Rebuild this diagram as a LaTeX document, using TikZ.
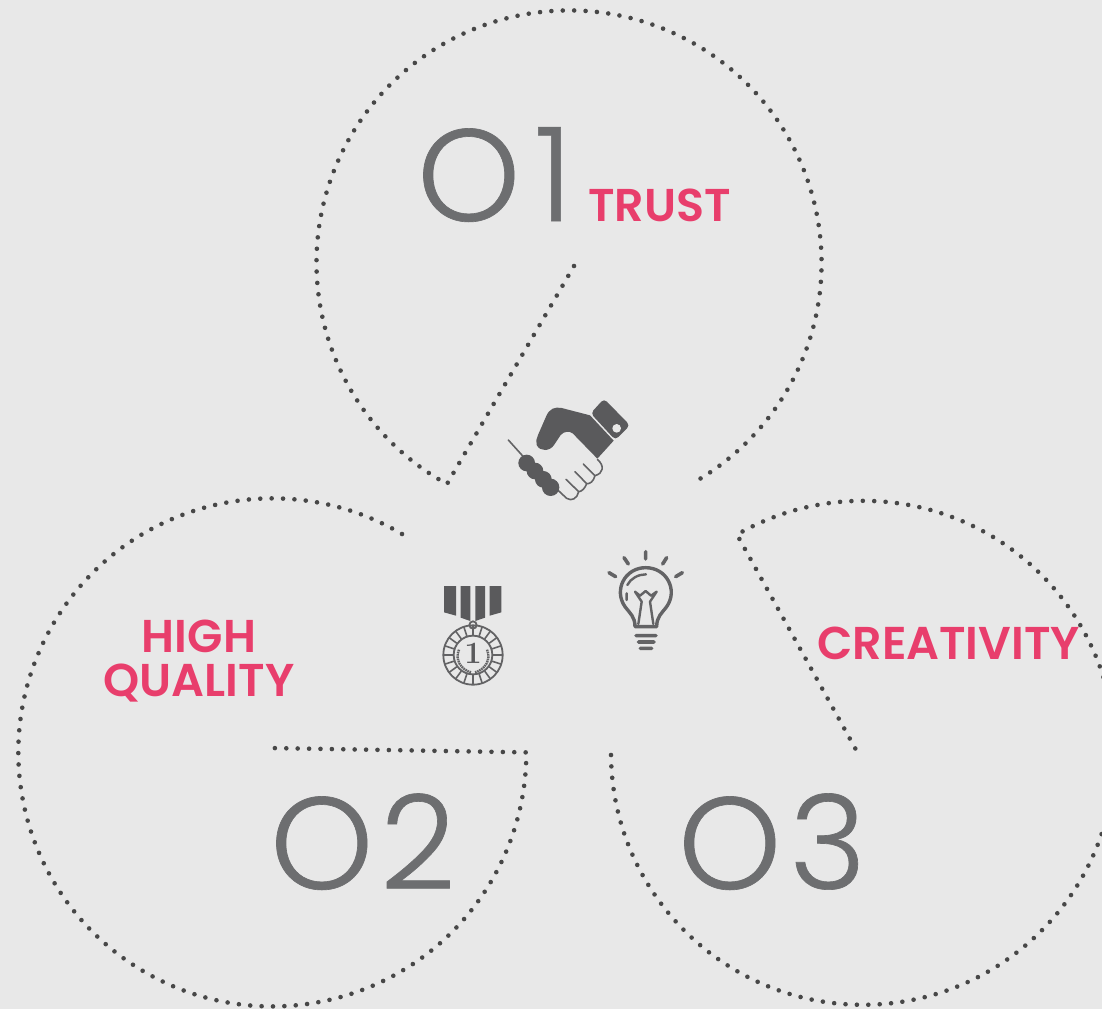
\documentclass[tikz,border=0pt]{standalone}
\usepackage{fontspec}
\newfontfamily\numfont[UprightFont=* Light,FakeBold=0.5]{Poppins}
\newfontfamily\labfont[UprightFont=* SemiBold]{Poppins}
\definecolor{bgc}{HTML}{E8E8E8}
\definecolor{pinkc}{HTML}{E83E6C}
\definecolor{numc}{HTML}{6D6E70}
\definecolor{dotc}{HTML}{474747}
\definecolor{icond}{HTML}{5A5A5C}
\definecolor{iconl}{HTML}{636365}
\tikzset{
  dotline/.style={draw=dotc,line width=4.6pt,line cap=round,dash pattern=on 0pt off 11.4pt},
  numtext/.style={inner sep=0pt,anchor=base west,text=numc,font=\fontsize{131}{131}\selectfont\numfont},
  labtext/.style={inner sep=0pt,text=pinkc,font=\fontsize{46}{46}\selectfont\labfont},
  thinicon/.style={draw=iconl,line width=3.6pt,line cap=round,line join=round},
  zoomscale/.style={scale=1/3}
}
\begin{document}
\begin{tikzpicture}[x=1pt,y=-1pt]
\useasboundingbox (0,0) rectangle (1102,1009);
\clip (0,0) rectangle (1102,1009);
\fill[bgc] (0,0) rectangle (1102,1009);
% dotted outlines
\draw[dotline] (574,266) -- (447,484) arc[start angle=118.9,end angle=419.4,radius=252.5];
\draw[dotline] (402,534) arc[start angle=-59.3,end angle=-360,radius=254] -- (270,748);
\draw[dotline] (611,755) arc[start angle=179.5,end angle=-120,radius=252] -- (860,757);
% numbers
\node[numtext] (n1) at (417,221) {O\kern14pt 1};
\node[numtext] (n2) at (270,889) {O\kern7pt 2};
\node[numtext] (n3) at (678,889) {O\kern8pt 3};
% labels
\node[labtext,anchor=base west] (t1) at (588,221) {TRUST};
\node[labtext,anchor=base] (t2) at (199,652) {HIGH};
\node[labtext,anchor=base] (t3) at (199,696) {QUALITY};
\node[labtext,anchor=base west] (t4) at (817,659) {CREATIVITY};
% handshake
\begin{scope}[shift={(490,390)},zoomscale]
  \fill[icond,rounded corners=4pt] (342,26) -- (420,106) -- (376,150) -- (302,70) -- cycle;
  \fill[bgc] (380,115) circle[radius=13];
  \fill[icond] (300,76) -- (371,152) -- (322,206) -- (248,130)
     .. controls (238,122) and (222,124) .. (212,135)
     -- (192,165) .. controls (180,184) and (150,186) .. (140,165)
     .. controls (136,155) and (140,145) .. (144,135)
     -- (168,80) .. controls (178,55) and (195,50) .. (215,54) -- cycle;
  \draw[iconl,line width=1.6pt,line cap=round,line join=round]
     (322,208) .. controls (345,228) and (340,250) .. (315,257)
     .. controls (310,275) and (300,282) .. (290,281)
     .. controls (285,295) and (275,305) .. (266,305)
     .. controls (262,325) and (245,335) .. (230,325) -- (200,297)
     (280,222) -- (315,257) (255,245) -- (290,281) (228,268) -- (266,305)
     (55,150) -- (100,200);
  \fill[icond] (110,219) circle[radius=25] (135,243) circle[radius=25] (160,268) circle[radius=25] (182,292) circle[radius=26];
  \draw[icond,line width=11pt,line cap=round] (112,221) -- (180,290);
\end{scope}
% medal
\begin{scope}[shift={(425,575)},zoomscale]
  \fill[icond] (57,33) -- (93,33) -- (93,122) -- (57,112) -- cycle
    (107,33) -- (136,33) -- (136,138) -- (107,128) -- cycle
    (151,33) -- (180,33) -- (180,128) -- (151,138) -- cycle
    (194,33) -- (229,33) -- (229,112) -- (194,122) -- cycle;
  \draw[iconl,line width=1.8pt] (144,150) circle[radius=11]
    (144,240) circle[radius=89] (144,240) circle[radius=58];
  \foreach \a in {0,18,...,342}{
    \draw[iconl,line width=1.6pt] (144,240) ++(\a:60) -- ++(\a:28);
  }
  \node[inner sep=0pt,text=icond,font=\fontsize{31}{31}\selectfont\bfseries] (m1) at (144,235) {1};
  \draw[iconl,line width=2.4pt,dash pattern=on 1.6pt off 0.7pt] (102,224) .. controls (88,255) and (110,285) .. (138,292);
  \draw[iconl,line width=2.4pt,dash pattern=on 1.6pt off 0.7pt] (186,224) .. controls (200,255) and (178,285) .. (150,292);
\end{scope}
% bulb
\begin{scope}[shift={(600,545)},zoomscale]
  \draw[iconl,line width=3.4pt,line cap=round,line join=round]
    (105,245) .. controls (105,215) and (90,205) .. (75,185)
    .. controls (40,135) and (75,68) .. (137,68)
    .. controls (200,68) and (235,135) .. (200,185)
    .. controls (185,205) and (170,215) .. (170,245) -- cycle;
  \draw[iconl,line width=2.4pt,line cap=round,line join=round]
    (115,237) -- (125,170) -- (105,140) -- (120,152) -- (137,138) -- (153,152) -- (170,140) -- (150,170) -- (160,237);
  \draw[iconl,line width=2.4pt,line cap=round]
    (82,120) .. controls (92,100) and (115,88) .. (138,88)
    (80,145) -- (80,165);
  \draw[thinicon]
    (108,272) -- (168,272) (115,291) -- (162,291) (121,310) -- (155,310)
    (137,20) -- (137,42) (72,38) -- (85,57) (200,38) -- (188,57)
    (27,83) -- (47,95) (247,83) -- (227,95);
\end{scope}
\end{tikzpicture}
\end{document}
